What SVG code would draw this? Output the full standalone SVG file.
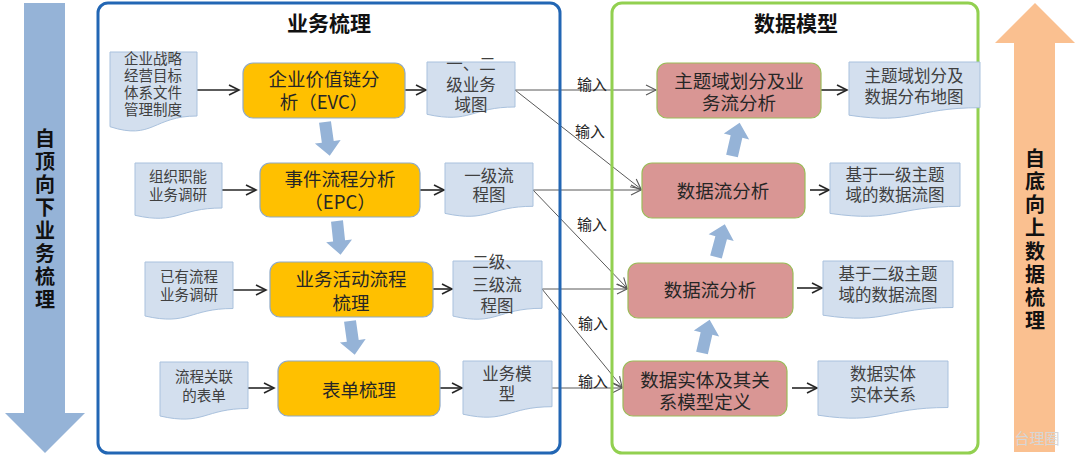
<svg xmlns="http://www.w3.org/2000/svg" width="1080" height="456" viewBox="0 0 1080 456">
<defs>
<marker id="open" markerUnits="userSpaceOnUse" markerWidth="14" markerHeight="14" refX="11" refY="6" orient="auto"><path d="M1,1 L11,6 L1,11" fill="none" stroke="#262626" stroke-width="1.6"/></marker>
<marker id="openg" markerUnits="userSpaceOnUse" markerWidth="14" markerHeight="14" refX="11" refY="6" orient="auto"><path d="M1,1 L11,6 L1,11" fill="none" stroke="#595959" stroke-width="1.1"/></marker>
<path id="blk" d="M-6,0 L6,0 L6,20 L13,20 L0,34 L-13,20 L-6,20 Z"/>
</defs>
<style>
text{font-family:"Noto Sans CJK SC","Microsoft YaHei",sans-serif;text-anchor:middle;dominant-baseline:central}
.doc{fill:#D3DFEE;stroke:#A9C1DD;stroke-width:1}
.dt{font-size:14.5px;fill:#404040}
.dt2{font-size:16.5px;fill:#404040}
.ob{fill:#FFC000;stroke:#8FA9C6;stroke-width:1.2}
.rb{fill:#D99694;stroke:#9BBB59;stroke-width:1.2}
.bt{font-size:18.5px;fill:#262626}
.title{font-size:21px;font-weight:bold;fill:#111}
.vt{font-size:20px;font-weight:bold;fill:#111}
.lab{font-size:15px;fill:#262626}
.k{stroke:#262626;stroke-width:1.6;fill:none;marker-end:url(#open)}
.g{stroke:#595959;stroke-width:1;fill:none;marker-end:url(#openg)}
.ba{fill:#95B3D7}
</style>
<rect width="1080" height="456" fill="#fff"/>

<g id="topdown-arrow">
<path d="M24,3 H65 V413 H85 L45,453 L5,413 H24 Z" fill="#95B3D7"/>
<text class="vt"><tspan x="45" y="137">自</tspan><tspan x="45" y="160">顶</tspan><tspan x="45" y="183">向</tspan><tspan x="45" y="206">下</tspan><tspan x="45" y="229">业</tspan><tspan x="45" y="252">务</tspan><tspan x="45" y="275">梳</tspan><tspan x="45" y="298">理</tspan></text>
</g>

<g id="bottomup-arrow">
<path d="M1014,452 V43 H995 L1035,3 L1075,43 H1055 V452 Z" fill="#FAC090"/>
<text class="vt"><tspan x="1035" y="157">自</tspan><tspan x="1035" y="180">底</tspan><tspan x="1035" y="203">向</tspan><tspan x="1035" y="226">上</tspan><tspan x="1035" y="250">数</tspan><tspan x="1035" y="273">据</tspan><tspan x="1035" y="296">梳</tspan><tspan x="1035" y="319">理</tspan></text>
<text x="1037" y="437" style="font-size:15px;fill:#d6d6d6">台理圈</text>
</g>

<g id="connectors">
<line class="g" x1="515" y1="90" x2="656" y2="90"/>
<line class="g" x1="515" y1="90" x2="641" y2="189"/>
<line class="g" x1="533" y1="190" x2="641" y2="190"/>
<line class="g" x1="533" y1="190" x2="627" y2="288"/>
<line class="g" x1="542" y1="289" x2="627" y2="289"/>
<line class="g" x1="542" y1="289" x2="622" y2="387"/>
<line class="g" x1="552" y1="388" x2="622" y2="388"/>
<text class="lab" x="592" y="83">输入</text>
<text class="lab" x="590" y="130">输入</text>
<text class="lab" x="592" y="223">输入</text>
<text class="lab" x="593" y="322">输入</text>
<text class="lab" x="593" y="380">输入</text>
<line class="k" x1="197" y1="90" x2="239" y2="90"/>
<line class="k" x1="222" y1="190" x2="256" y2="190"/>
<line class="k" x1="233" y1="290" x2="266" y2="290"/>
<line class="k" x1="248" y1="388" x2="274" y2="388"/>
<line class="k" x1="405" y1="90" x2="426" y2="90"/>
<line class="k" x1="420" y1="190" x2="444" y2="190"/>
<line class="k" x1="433" y1="289" x2="452" y2="289"/>
<line class="k" x1="440" y1="388" x2="462" y2="388"/>
<line class="k" x1="821" y1="90" x2="847" y2="90"/>
<line class="k" x1="810" y1="190" x2="829" y2="190"/>
<line class="k" x1="797" y1="288" x2="822" y2="288"/>
<line class="k" x1="792" y1="388" x2="817" y2="388"/>
<use href="#blk" class="ba" transform="translate(325,122) rotate(-8)"/>
<use href="#blk" class="ba" transform="translate(337,221) rotate(-6)"/>
<use href="#blk" class="ba" transform="translate(350,321) rotate(-8)"/>
<use href="#blk" class="ba" transform="translate(732,156) rotate(193)"/>
<use href="#blk" class="ba" transform="translate(716,257) rotate(195)"/>
<use href="#blk" class="ba" transform="translate(702,353) rotate(193)"/>
</g>

<g id="panel-business">
<rect x="98" y="3" width="462" height="450" rx="10" fill="none" stroke="#2266B4" stroke-width="3"/>
<text class="title" x="329" y="22">业务梳理</text>
</g>
<g id="panel-data">
<rect x="612" y="3" width="366" height="450" rx="10" fill="none" stroke="#92D050" stroke-width="3"/>
<text class="title" x="796" y="22">数据模型</text>
</g>

<g id="doc-strategy"><path class="doc" d="M110,52 H197 V116 C153,116 153,140.6 110,126.7 Z"/>
<text class="dt"><tspan x="153" y="57">企业战略</tspan><tspan x="153" y="74">经营目标</tspan><tspan x="153" y="91">体系文件</tspan><tspan x="153" y="108">管理制度</tspan></text></g>
<g id="doc-org"><path class="doc" d="M135,163 H222 V208 C178,208 178,225 135,215.3 Z"/>
<text class="dt"><tspan x="178" y="175">组织职能</tspan><tspan x="178" y="193">业务调研</tspan></text></g>
<g id="doc-existing"><path class="doc" d="M145,262 H233 V308.5 C189,308.5 189,326 145,316 Z"/>
<text class="dt"><tspan x="189" y="275">已有流程</tspan><tspan x="189" y="293">业务调研</tspan></text></g>
<g id="doc-forms"><path class="doc" d="M160,362 H248 V408.5 C204,408.5 204,426 160,416 Z"/>
<text class="dt"><tspan x="204" y="375">流程关联</tspan><tspan x="204" y="394">的表单</tspan></text></g>

<g id="box-evc"><rect class="ob" x="243" y="63" width="162" height="55" rx="10"/>
<text class="bt"><tspan x="324" y="78">企业价值链分</tspan><tspan x="324" y="101">析（EVC）</tspan></text></g>
<g id="box-epc"><rect class="ob" x="260" y="163" width="160" height="54" rx="10"/>
<text class="bt"><tspan x="340" y="178">事件流程分析</tspan><tspan x="340" y="201">（EPC）</tspan></text></g>
<g id="box-activity"><rect class="ob" x="270" y="262" width="163" height="55" rx="10"/>
<text class="bt"><tspan x="351" y="278">业务活动流程</tspan><tspan x="351" y="302">梳理</tspan></text></g>
<g id="box-forms"><rect class="ob" x="278" y="361" width="162" height="55" rx="10"/>
<text class="bt" x="359" y="389">表单梳理</text></g>

<g id="doc-domain"><path class="doc" d="M427,62 H515 V107 C471,107 471,124 427,114.3 Z"/>
<text class="dt2"><tspan x="471" y="63">一、二</tspan><tspan x="471" y="84">级业务</tspan><tspan x="471" y="104">域图</tspan></text></g>
<g id="doc-l1flow"><path class="doc" d="M445,163 H533 V206.3 C489,206.3 489,222.8 445,213.4 Z"/>
<text class="dt2"><tspan x="489" y="175">一级流</tspan><tspan x="489" y="194">程图</tspan></text></g>
<g id="doc-l23flow"><path class="doc" d="M453,261 H542 V308.3 C497,308.3 497,326.3 453,316.1 Z"/>
<text class="dt2"><tspan x="497" y="261">二级、</tspan><tspan x="497" y="284">三级流</tspan><tspan x="497" y="305">程图</tspan></text></g>
<g id="doc-bizmodel"><path class="doc" d="M463,361 H552 V406.7 C507,406.7 507,424 463,414.2 Z"/>
<text class="dt2"><tspan x="507" y="373">业务模</tspan><tspan x="507" y="393">型</tspan></text></g>

<g id="box-subject"><rect class="rb" x="657" y="63" width="164" height="55" rx="10"/>
<text class="bt"><tspan x="739" y="80">主题域划分及业</tspan><tspan x="739" y="102">务流分析</tspan></text></g>
<g id="box-dataflow1"><rect class="rb" x="642" y="163" width="163" height="55" rx="10"/>
<text class="bt" x="723" y="190">数据流分析</text></g>
<g id="box-dataflow2"><rect class="rb" x="628" y="263" width="165" height="55" rx="10"/>
<text class="bt" x="710" y="289">数据流分析</text></g>
<g id="box-entity"><rect class="rb" x="623" y="361" width="164" height="55" rx="10"/>
<text class="bt"><tspan x="705" y="379">数据实体及其关</tspan><tspan x="705" y="401">系模型定义</tspan></text></g>

<g id="doc-subjectmap"><path class="doc" d="M849,62 H980 V107.7 C914,107.7 914,125 849,115.2 Z"/>
<text class="dt2"><tspan x="914" y="75">主题域划分及</tspan><tspan x="914" y="96">数据分布地图</tspan></text></g>
<g id="doc-l1dfd"><path class="doc" d="M830,163 H960 V206.3 C895,206.3 895,222.8 830,213.4 Z"/>
<text class="dt2"><tspan x="895" y="174">基于一级主题</tspan><tspan x="895" y="194">域的数据流图</tspan></text></g>
<g id="doc-l2dfd"><path class="doc" d="M823,261 H953 V307.5 C888,307.5 888,325 823,315.2 Z"/>
<text class="dt2"><tspan x="888" y="273">基于二级主题</tspan><tspan x="888" y="294">域的数据流图</tspan></text></g>
<g id="doc-entities"><path class="doc" d="M818,361 H948 V407.5 C883,407.5 883,425 818,415.2 Z"/>
<text class="dt2"><tspan x="883" y="373">数据实体</tspan><tspan x="883" y="394">实体关系</tspan></text></g>
</svg>
